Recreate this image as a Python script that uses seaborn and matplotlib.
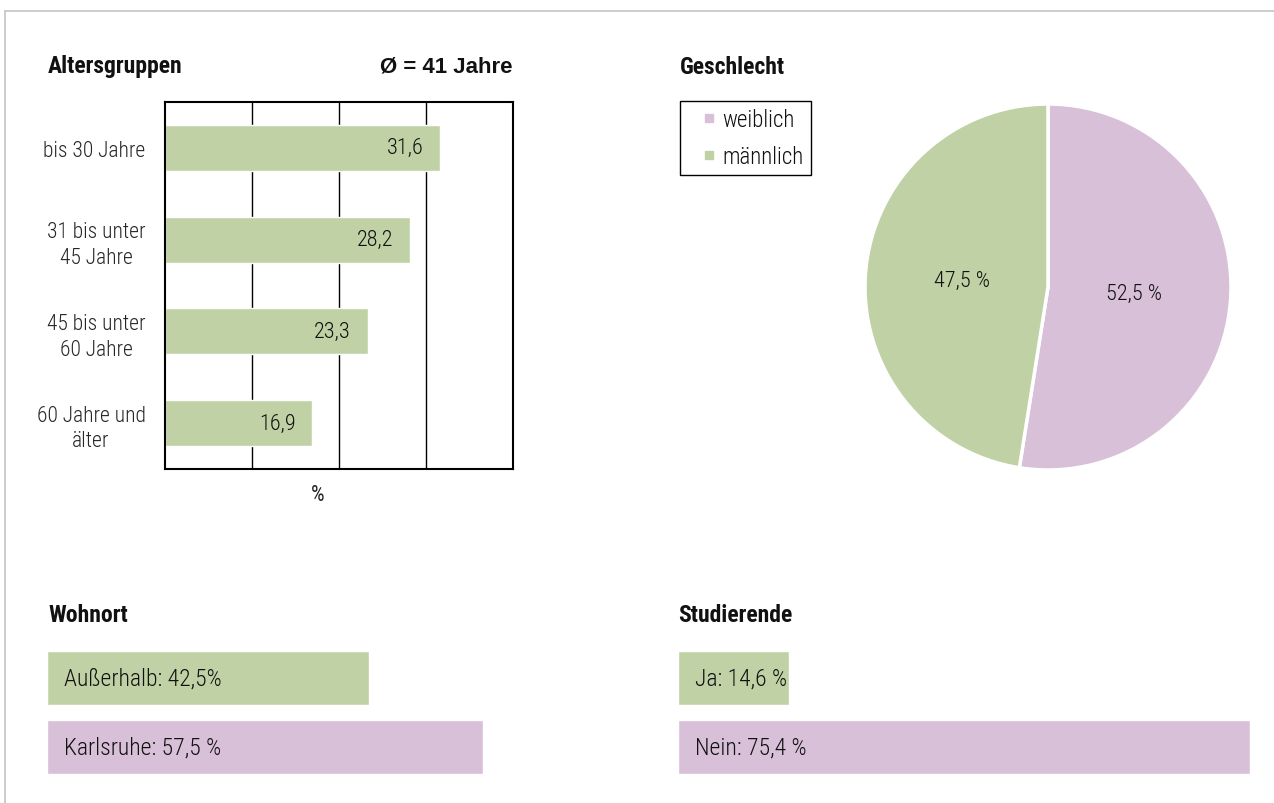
"""Profil der Befragten: Altersgruppen, Geschlecht, Wohnort, Studierende."""

import matplotlib

matplotlib.use("Agg")
import matplotlib.pyplot as plt
import seaborn as sns
from matplotlib import font_manager
from matplotlib.lines import Line2D

# --- Daten -----------------------------------------------------------------
alter_gruppen = ["bis 30 Jahre", "31 bis unter\n45 Jahre", "45 bis unter\n60 Jahre", "60 Jahre und\nälter"]
alter_anteile = [31.6, 28.2, 23.3, 16.9]
alter_mittel = "Ø = 41 Jahre"

geschlecht = ["weiblich", "männlich"]
geschlecht_anteile = [52.5, 47.5]

wohnort = ["Außerhalb", "Karlsruhe"]
wohnort_anteile = [42.5, 57.5]
wohnort_texte = ["Außerhalb: 42,5%", "Karlsruhe: 57,5 %"]

studierende = ["Ja", "Nein"]
studierende_anteile = [14.6, 75.4]
studierende_texte = ["Ja: 14,6 %", "Nein: 75,4 %"]

GRUEN = "#C0D2A5"
ROSA = "#D9C0D9"
W, H = 1274, 804


def schrift(*namen):
    """Erste installierte Schriftfamilie aus der Liste."""
    for n in namen:
        try:
            font_manager.findfont(n, fallback_to_default=False)
            return n
        except ValueError:
            pass
    return "DejaVu Sans"


def rect(x0, y0, x1, y1):
    """Pixel-Rechteck (von oben gemessen) in Figure-Koordinaten."""
    return [x0 / W, 1 - y1 / H, (x1 - x0) / W, (y1 - y0) / H]


sns.set_theme(style="white")
schmal = schrift("Roboto Condensed", "Liberation Sans Narrow", "Open Sans Condensed", "Open Sans")
plt.rcParams["font.family"] = [schmal, "DejaVu Sans"]
plt.rcParams["font.weight"] = "light"
plt.rcParams["text.color"] = "#111111"

fig = plt.figure(figsize=(W / 100, H / 100), dpi=100)

# Rahmen
fig.add_artist(Line2D([5 / W, 1.0], [1 - 12 / H] * 2, transform=fig.transFigure, color="#c8c8c8", lw=1.3))
fig.add_artist(Line2D([5 / W] * 2, [0.0, 1 - 12 / H], transform=fig.transFigure, color="#c8c8c8", lw=1.3))

titel = dict(fontsize=17, fontweight="bold", va="center")
fig.text(48 / W, 1 - 67 / H, "Altersgruppen", ha="left", **titel)
fig.text(513 / W, 1 - 67 / H, alter_mittel, ha="right", family="Liberation Sans",
         fontsize=16, fontweight="bold", va="center")
fig.text(680 / W, 1 - 67 / H, "Geschlecht", ha="left", **titel)
fig.text(48 / W, 1 - 616 / H, "Wohnort", ha="left", **titel)
fig.text(678 / W, 1 - 616 / H, "Studierende", ha="left", **titel)

# --- Altersgruppen ---------------------------------------------------------
ax = fig.add_axes(rect(165, 103, 513, 470))
sns.barplot(x=alter_anteile, y=alter_gruppen, orient="h", color=GRUEN, width=0.5,
            saturation=1, ax=ax)
ax.set_xlim(0, 40)
ax.set_ylim(3.5, -0.5)
ax.set_xticks([10, 20, 30])
ax.set_xticklabels([])
ax.tick_params(length=0)
ax.grid(axis="x", color="black", lw=1)
ax.grid(axis="y", visible=False)
for s in ax.spines.values():
    s.set_visible(True)
    s.set_color("black")
    s.set_linewidth(1.5)
ax.set_xlabel("%", fontsize=15.5)
ax.xaxis.set_label_coords(0.44, -0.04, transform=None)
ax.xaxis.label.set_va("top")
ax.set_ylabel("")
for lbl in ax.get_yticklabels():
    lbl.set_multialignment("center")
    lbl.set_fontsize(15.5)
    lbl.set_linespacing(1.3)
ax.tick_params(axis="y", pad=14)
for i, v in enumerate(alter_anteile):
    ax.annotate(f"{v:.1f}".replace(".", ","), xy=(v, i), xytext=(-12, 0),
                textcoords="offset points", ha="right", va="center", fontsize=16)

# --- Geschlecht ------------------------------------------------------------
r = 183 * 1.02
axp = fig.add_axes(rect(1048 - r, 288 - r, 1048 + r, 288 + r))
keile, _, pct = axp.pie(
    geschlecht_anteile, colors=[ROSA, GRUEN], startangle=90, counterclock=False,
    autopct=lambda p: f"{p:.1f} %".replace(".", ","), pctdistance=0.47,
    wedgeprops=dict(edgecolor="white", linewidth=2.5),
    textprops=dict(fontsize=16),
)
axp.set_xlim(-1.02, 1.02)
axp.set_ylim(-1.02, 1.02)
marken = [Line2D([], [], marker="s", linestyle="", markersize=6, color=k.get_facecolor())
          for k in keile]
leg = fig.legend(marken, geschlecht, loc="upper left", bbox_to_anchor=(680 / W, 1 - 102 / H),
                 frameon=True, fancybox=False, edgecolor="black", framealpha=1,
                 fontsize=16.5, handlelength=1.9, handletextpad=-0.35,
                 labelspacing=0.6, borderpad=0.3, borderaxespad=0)
leg.get_frame().set_linewidth(1.0)

# --- Wohnort / Studierende -------------------------------------------------
for x0, kat, werte, texte in [(47, wohnort, wohnort_anteile, wohnort_texte),
                              (678, studierende, studierende_anteile, studierende_texte)]:
    axb = fig.add_axes(rect(x0, 644.5, x0 + 758, 782.5))
    sns.barplot(x=werte, y=kat, hue=kat, palette=[GRUEN, ROSA], orient="h",
                width=0.78, saturation=1, legend=False, ax=axb)
    axb.set_xlim(0, 100)
    axb.set_ylim(1.5, -0.5)
    axb.axis("off")
    for i, t in enumerate(texte):
        axb.annotate(t, xy=(0, i), xytext=(12, 0), textcoords="offset points",
                     ha="left", va="center", fontsize=17)

fig.savefig("out.png", dpi=100)
